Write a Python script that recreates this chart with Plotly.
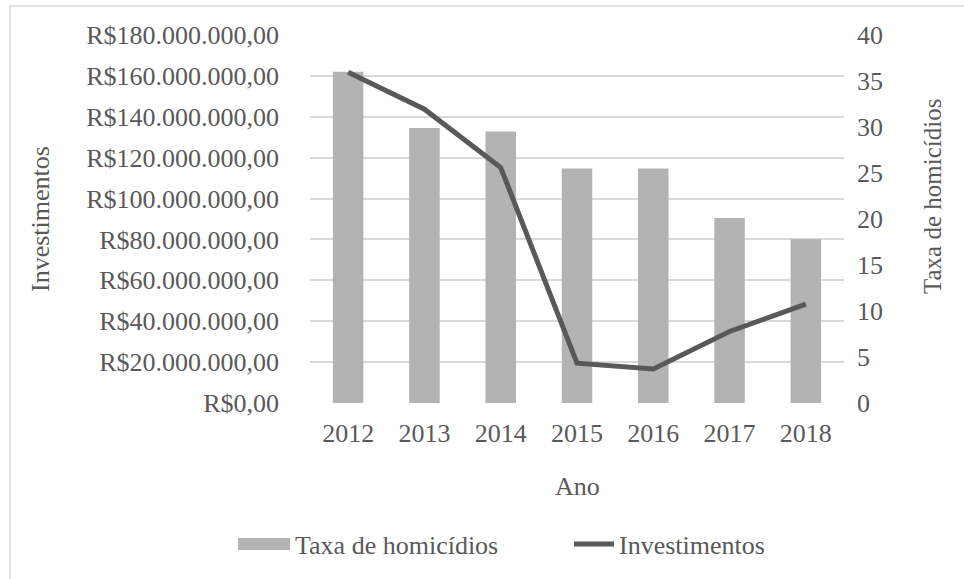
import plotly.graph_objects as go

anos = ["2012", "2013", "2014", "2015", "2016", "2017", "2018"]
taxa_homicidios = [36.0, 29.9, 29.5, 25.5, 25.5, 20.1, 17.8]
investimentos = [161.8e6, 143.7e6, 115.2e6, 19.5e6, 16.6e6, 35.0e6, 48.4e6]

inv_tickvals = [0, 20e6, 40e6, 60e6, 80e6, 100e6, 120e6, 140e6, 160e6, 180e6]
inv_ticktext = ["R$0,00", "R$20.000.000,00", "R$40.000.000,00", "R$60.000.000,00",
                "R$80.000.000,00", "R$100.000.000,00", "R$120.000.000,00",
                "R$140.000.000,00", "R$160.000.000,00", "R$180.000.000,00"]
taxa_tickvals = [0, 5, 10, 15, 20, 25, 30, 35, 40]

FONT = "Liberation Serif"
TXT = "#595959"
BAR = "#b3b3b3"

# plot area in pixels: x 310..844, y 35..403
def px(xp):
    return (xp - 310) / 534

def py(yp):
    return (403 - yp) / 368

fig = go.Figure()
fig.add_trace(go.Bar(
    x=anos, y=taxa_homicidios, name="Taxa de homicídios",
    marker=dict(color=BAR, line=dict(width=0)),
    yaxis="y", xaxis="x",
))
fig.add_trace(go.Scatter(
    x=anos, y=investimentos, name="Investimentos", mode="lines",
    line=dict(color="#595959", width=5),
    yaxis="y2", xaxis="x",
))

fig.update_layout(
    width=964, height=579,
    margin=dict(l=310, r=120, t=35, b=176),
    paper_bgcolor="white", plot_bgcolor="white",
    font=dict(family=FONT, size=26, color=TXT),
    bargap=0.6,
    showlegend=True,
    legend=dict(orientation="h", x=px(245), xanchor="left", y=py(544), yanchor="middle",
                font=dict(family=FONT, size=26, color=TXT), bgcolor="rgba(0,0,0,0)",
                itemwidth=40, traceorder="normal", entrywidth=269, entrywidthmode="pixels"),
    xaxis=dict(type="category", showgrid=False, showline=False, ticks="",
               tickfont=dict(size=26, color=TXT), ticklabelstandoff=12,
               zeroline=False),
    yaxis=dict(side="right", range=[0, 40], tickvals=taxa_tickvals, showgrid=False,
               zeroline=False, showline=False, ticks="",
               tickfont=dict(size=26, color=TXT), ticklabelstandoff=12),
    yaxis2=dict(side="left", overlaying="y", range=[0, 180e6], tickvals=inv_tickvals,
                ticktext=inv_ticktext, showgrid=True, gridcolor="#d9d9d9", gridwidth=1.5,
                zeroline=False, showline=False, ticks="",
                tickfont=dict(size=26, color=TXT), ticklabelstandoff=30),
    shapes=[
        dict(type="rect", xref="paper", yref="paper", x0=px(10), x1=1.5,
             y0=-1.0, y1=py(6), line=dict(color="#d9d9d9", width=1.5),
             fillcolor="rgba(0,0,0,0)", layer="below"),
        # wide legend swatch for the bars (Excel style)
        dict(type="rect", xref="paper", yref="paper", x0=px(238), x1=px(290),
             y0=py(550), y1=py(538), line=dict(width=0), fillcolor=BAR, layer="above"),
    ],
    annotations=[
        dict(text="Investimentos", xref="paper", yref="paper",
             x=px(40), y=0.5, textangle=-90, showarrow=False,
             xanchor="center", yanchor="middle", font=dict(size=26, color=TXT)),
        dict(text="Taxa de homicídios", xref="paper", yref="paper",
             x=px(933), y=py(197), textangle=-90, showarrow=False,
             xanchor="center", yanchor="middle", font=dict(size=25, color=TXT)),
        dict(text="Ano", xref="paper", yref="paper", x=0.5, y=py(487),
             showarrow=False, xanchor="center", yanchor="middle",
             font=dict(size=26, color=TXT)),
    ],
)

fig.write_html("out.html")
